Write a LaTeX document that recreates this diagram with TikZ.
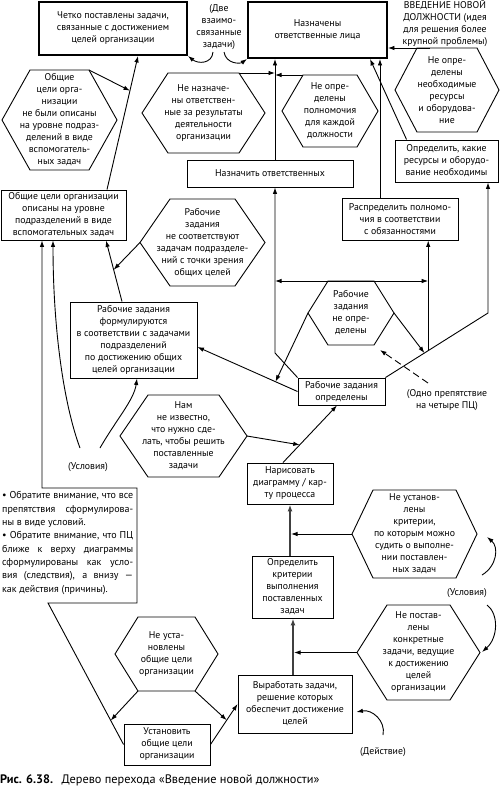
\documentclass[tikz,border=0pt]{standalone}
\usepackage{fontspec}
\setmainfont{PT Sans}
\usetikzlibrary{arrows.meta,calc}
\newcommand{\hexnode}[7]{%
  \path ({#2-#4/2},#3) coordinate (#1-l)
        ({#2-#4/2+#6},{#3-#5/2}) coordinate (#1-tl)
        ({#2+#4/2-#6},{#3-#5/2}) coordinate (#1-tr)
        ({#2+#4/2},#3) coordinate (#1-r)
        ({#2+#4/2-#6},{#3+#5/2}) coordinate (#1-br)
        ({#2-#4/2+#6},{#3+#5/2}) coordinate (#1-bl);
  \draw[hexline] (#1-l) -- (#1-tl) -- (#1-tr) -- (#1-r) -- (#1-br) -- (#1-bl) -- cycle;
  \node[hextext] (#1) at (#2,#3) {#7};%
}
\newcommand{\jline}[1]{\makebox[131pt][s]{#1}}
\begin{document}
\begin{tikzpicture}[x=1pt,y=-1pt,
  every node/.style={font=\fontsize{9.8}{12}\selectfont},
  boxn/.style={draw,line width=0.9pt,align=center,inner sep=1pt},
  thickbox/.style={draw,line width=1.9pt,align=center,inner sep=1pt},
  hexline/.style={line width=0.9pt,line join=miter},
  hextext/.style={align=center,inner sep=0pt},
  plain/.style={align=center,inner sep=0pt},
  arr/.style={line width=0.9pt,-{Latex[length=6.5pt,width=4.5pt]}},
  arrboth/.style={line width=0.9pt,{Latex[length=6.5pt,width=4.5pt]}-{Latex[length=6.5pt,width=4.5pt]}},
  arrthick/.style={line width=1.6pt,draw=black!75,-{Latex[length=7pt,width=5pt]}},
]
\useasboundingbox (0,0) rectangle (500,793);

% ---------- boxes ----------
\node[thickbox,minimum width=148pt,minimum height=53pt] (A) at (113,28.5) {Четко поставлены задачи,\\связанные с достижением\\целей организации};
\node[thickbox,minimum width=139pt,minimum height=56pt] (B) at (317.5,30) {Назначены\\ответственные лица};
\node[boxn,minimum width=166pt,minimum height=27pt] (nazn) at (270,173.5) {Назначить ответственных};
\node[boxn,minimum width=103pt,minimum height=42pt] (opr) at (446.5,161) {Определить, какие\\ресурсы и оборудо-\\вание необходимы};
\node[boxn,minimum width=125pt,minimum height=50pt] (gd) at (63.5,215) {Общие цели организации\\описаны на уровне\\подразделений в виде\\вспомогательных задач};
\node[boxn,minimum width=116pt,minimum height=42pt] (rasp) at (400,219) {Распределить полномо-\\чия в соответствии\\с обязанностями};
\node[boxn,minimum width=127pt,minimum height=76pt] (form) at (133.5,340) {Рабочие задания\\формулируются\\в соответствии с задачами\\подразделений\\по достижению общих\\целей организации};
\node[boxn,minimum width=87pt,minimum height=27pt] (opred) at (341.5,391.5) {Рабочие задания\\определены};
\node[boxn,minimum width=86pt,minimum height=41pt] (nar) at (290,483.5) {Нарисовать\\диаграмму / кар-\\ту процесса};
\node[boxn,minimum width=81pt,minimum height=62pt] (krit) at (292.5,587) {Определить\\критерии\\выполнения\\поставленных\\задач};
\node[boxn,minimum width=114pt,minimum height=58pt] (vyr) at (295,704) {Выработать задачи,\\решение которых\\обеспечит достижение\\целей};
\node[boxn,minimum width=86pt,minimum height=41pt] (ust) at (167,744.5) {Установить\\общие цели\\организации};

% ---------- hexagons ----------
\hexnode{h1}{59.5}{120}{115}{100}{28}{Общие\\цели орга-\\низации\\не были описаны\\на уровне подраз-\\делений в виде\\вспомогатель-\\ных задач}
\hexnode{h2}{203.5}{113}{123}{80}{26}{Не назначе-\\ны ответствен-\\ные за результаты\\деятельности\\организации}
\hexnode{h3}{330}{111}{96}{72}{21}{Не опре-\\делены\\полномочия\\для каждой\\должности}
\hexnode{h4}{447}{90}{104}{84}{22}{Не опре-\\делены\\необходимые\\ресурсы\\и оборудова-\\ние}
\hexnode{h5}{202.5}{242.5}{125}{87}{30}{Рабочие\\задания\\не соответствуют\\задачам подразделе-\\ний с точки зрения\\общих целей}
\hexnode{h6}{351}{313}{86}{64}{20}{Рабочие\\задания\\не опре-\\делены}
\hexnode{h7}{183.5}{436}{127}{82}{28}{Нам\\не известно,\\что нужно сде-\\лать, чтобы решить\\поставленные\\задачи}
\hexnode{h8}{414.5}{534}{125}{88}{21}{Не установ-\\лены\\критерии,\\по которым можно\\судить о выполне-\\нии поставлен-\\ных задач}
\hexnode{h9}{418.5}{652.5}{123}{95}{30}{Не постав-\\лены\\конкретные\\задачи, ведущие\\к достижению\\целей\\организации}
\hexnode{h10}{166.5}{654}{103}{74}{23}{Не уста-\\новлены\\общие цели\\организации}

% ---------- free texts ----------
\node[plain] (dve) at (219,27) {(Две\\взаимо-\\связанные\\задачи)};
\node[plain] (vved) at (445,23.5) {ВВЕДЕНИЕ НОВОЙ\\ДОЛЖНОСТИ (идея\\для решения более\\крупной проблемы)};
\node[plain] (odno) at (447,400.5) {(Одно препятствие\\на четыре ПЦ)};
\node[plain] (usl1) at (88,467) {(Условия)};
\node[plain] (usl2) at (467,593) {(Условия)};
\node[plain] (deyst) at (383,752) {(Действие)};
\node[anchor=north west,align=left,inner sep=0pt,
      font=\fontsize{10}{13.3}\selectfont] (notes) at (2,491.5)
 {\jline{• Обратите внимание, что все}\\
  \jline{препятствия сформулирова-}\\
  ны в виде условий.\\
  \jline{• Обратите внимание, что ПЦ}\\
  \jline{ближе к верху диаграммы}\\
  \jline{сформулированы как усло-}\\
  \jline{вия (следствия), а внизу —}\\
  как действия (причины).};
\node[anchor=base west,inner sep=0pt,font=\fontsize{12.3}{14}\selectfont] (cap) at (0,783)
 {\textbf{Рис. 6.38.}\hspace{0.7em}Дерево перехода «Введение новой должности»};

% ---------- connectors ----------
% to A
\coordinate (c1s) at ([xshift=43.5pt]gd.north);
\coordinate (c1e) at ([xshift=25pt]A.south);
\draw[arr] (c1s) -- (c1e);
\draw[arr] (h1-tr) -- ($(c1s)!0.74!(c1e)$);
% two interrelated tasks
\coordinate (dv1) at (213,52);
\coordinate (dv2) at (224,52);
\draw[arr] (dv1) .. controls (212,64) and (198,64) .. (A.south east);
\draw[arr] (dv2) .. controls (226,64) and (240,64) .. (B.south west);
% to B
\coordinate (v1) at ([xshift=5pt]nazn.north);
\draw[arr] (v1) -- (v1 |- B.south);
\draw[arr] (h2-tr) -- (h2-tr -| v1);
\draw[arr] (h3-tl) -- (h3-tl -| v1);
\draw[arr] ([xshift=13pt]h4-tl) -- (h4-tl -| B.east);
\draw[arr] ([xshift=12pt]opr.north west) -- ([xshift=52.5pt]B.south);
\coordinate (v2) at ([xshift=-20pt]rasp.north);
\draw[arr] (v2) -- (v2 |- B.south);
% to gd
\coordinate (c10s) at ([xshift=-11.5pt]form.north);
\coordinate (c10e) at ([xshift=42.5pt]gd.south);
\draw[arr] (c10s) -- (c10e);
\draw[arr] (h5-l) -- ($(c10s)!0.52!(c10e)$);
% conditions (left)
\coordinate (u1a) at (80,448);
\coordinate (u1b) at (100,448);
\draw[arr] (u1a) .. controls (64,405) and (53,330) .. ([xshift=-10.5pt]gd.south);
\draw[arr] (u1b) .. controls (116,420) and (134,400) .. ([xshift=3.5pt]form.south);
% long path from ust to gd
\coordinate (n1) at (48,603);
\coordinate (n2) at (137,603);
\coordinate (n3) at (137,488);
\coordinate (n4) at (42,488);
\draw[arr,line join=miter] (ust.west) -- (n1) -- (n2) -- (n3) -- (n4) -- (n4 |- gd.south);
\draw[arr] (h10-bl) -- ($(ust.west)!0.17!(n1)$);
\draw[arr] (ust.east) -- (vyr.west);
\draw[arr] (h10-br) -- ($(ust.east)!0.6!(vyr.west)$);
% central column
\coordinate (v3) at ([xshift=-2pt]vyr.north);
\draw[arrthick] (v3) -- (v3 |- krit.south);
\draw[arr,shorten >=1pt] (h9-l) -- (h9-l -| v3);
\draw[arrthick] (krit.north -| nar.south) -- (nar.south);
\draw[arr,shorten >=1pt] (h8-l) -- (h8-l -| nar.south);
\coordinate (c20s) at ([xshift=-7pt]nar.north);
\coordinate (c20e) at ([xshift=-4.5pt]opred.south);
\draw[arr] (c20s) -- (c20e);
\draw[arr] (h7-r) -- ($(c20s)!0.31!(c20e)$);
% from opred
\coordinate (c22e) at ([yshift=-7pt]form.east);
\draw[arr] (opred.west) -- (c22e);
\coordinate (q1) at (275,353);
\draw[arr] (opred.north west) -- (q1) -- (q1 |- nazn.south);
\coordinate (q2) at (488,313);
\draw[arr] (opred.north east) -- (q2) -- (q2 |- opr.south);
\coordinate (q3) at ($(opred.north east)!0.417!(q2)$);
\draw[arr] (q3) -- (q3 |- rasp.south);
% one obstacle, four goals
\draw[arrboth] (h6-tl -| q1) -- (h6-tl -| q3);
\draw[arr] (h6-l) -- ($(opred.west)!0.22!(c22e)$);
\draw[arr] (h6-r) -- ($(opred.north east)!0.38!(q2)$);
\coordinate (d1) at (428,383);
\draw[arr,dash pattern=on 7pt off 4pt] (d1) -- ($(h6-br)+(6,5)$);
% conditions (right)
\coordinate (ur1) at (482,575);
\coordinate (ur2) at (487,537);
\coordinate (ur3) at (487,605);
\coordinate (ur4) at (482,652);
\draw[arr] (ur1) .. controls (497,566) and (499,547) .. (ur2);
\draw[arr] (ur3) .. controls (499,614) and (498,638) .. (ur4);
% action
\coordinate (da) at (383,735);
\draw[arr] (da) .. controls (386,721) and (372,709) .. ([xshift=4pt,yshift=-8pt]vyr.east);
\end{tikzpicture}
\end{document}
